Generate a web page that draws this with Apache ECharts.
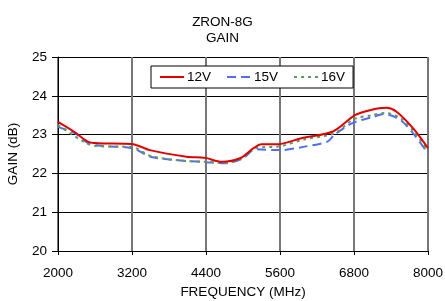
<!DOCTYPE html>
<html><head><meta charset="utf-8">
<script src="https://cdn.jsdelivr.net/npm/echarts@6/dist/echarts.min.js"></script>
<style>html,body{margin:0;padding:0;background:#fff}#c{width:445px;height:301px}</style>
</head><body><div id="c"></div>
<script>
const freq12 = [2000,2275,2480,2640,3195,3490,4085,4385,4655,4950,5170,5300,5545,5975,6460,6815,7060,7325,7490,7760,8000];
const v12 =    [23.33,23.06,22.82,22.78,22.76,22.60,22.43,22.40,22.30,22.39,22.65,22.75,22.75,22.92,23.08,23.50,23.63,23.69,23.59,23.16,22.65];
const freq15 = [2000,2280,2480,2700,3200,3500,3800,4100,4400,4700,5000,5200,5600,6000,6370,6480,6765,7120,7280,7550,7760,8000];
const v15 =    [23.20,23.03,22.79,22.71,22.65,22.43,22.36,22.32,22.29,22.26,22.39,22.62,22.60,22.69,22.82,22.99,23.29,23.46,23.53,23.38,23.03,22.52];
const freq16 = [2000,2480,2700,3200,3500,4000,4400,4700,5000,5200,5600,6000,6480,6800,7100,7300,7550,7760,8000];
const v16 =    [23.25,22.76,22.70,22.68,22.45,22.33,22.30,22.27,22.40,22.65,22.70,22.88,23.03,23.40,23.50,23.56,23.43,23.10,22.58];
const xTicks = [2000,3200,4400,5600,6800,8000];
const yTicks = [20,21,22,23,24,25];
const seriesNames = ['12V','15V','16V'];

const pair = (xs, ys) => xs.map((x,i)=>[x, ys[i]]);
const font = 'Liberation Sans, Arial, sans-serif';
const chart = echarts.init(document.getElementById('c'));
chart.setOption({
  animation:false,
  title:{text:'ZRON-8G\nGAIN', left:'center', top:9, textStyle:{fontFamily:font,fontSize:13.5,fontWeight:'normal',color:'#000',lineHeight:16}},
  grid:{left:58,right:17,top:57,bottom:50,containLabel:false,outerBoundsMode:'none'},
  legend:{
    data:seriesNames, left:151, top:66, padding:[4,8,4,8], orient:'horizontal',
    borderColor:'#000', borderWidth:1, backgroundColor:'#fff', borderRadius:0,
    itemWidth:24, itemHeight:10, itemGap:15,
    itemStyle:{opacity:0},
    textStyle:{fontFamily:font,fontSize:13.5,color:'#000',padding:[0,0,0,-2]}
  },
  xAxis:{
    type:'value', min:xTicks[0], max:xTicks[xTicks.length-1], interval:1200,
    name:'FREQUENCY (MHz)', nameLocation:'middle', nameGap:34,
    nameTextStyle:{fontFamily:font,fontSize:13.5,color:'#000'},
    axisLine:{lineStyle:{color:'#000',width:1}},
    axisTick:{show:true,length:4,lineStyle:{color:'#000'}},
    axisLabel:{fontFamily:font,fontSize:13.5,color:'#000',margin:15,formatter:v=>String(v)},
    splitLine:{show:true,lineStyle:{color:'#777',width:2}}
  },
  yAxis:{
    type:'value', min:yTicks[0], max:yTicks[yTicks.length-1], interval:1,
    name:'GAIN (dB)', nameLocation:'middle', nameGap:38,
    nameTextStyle:{fontFamily:font,fontSize:13.5,color:'#000'},
    axisLine:{show:true,lineStyle:{color:'#000',width:1}},
    axisTick:{show:true,length:6,lineStyle:{color:'#000'}},
    axisLabel:{fontFamily:font,fontSize:13.5,color:'#000',margin:11},
    splitLine:{show:true,lineStyle:{color:'#000',width:1}}
  },
  series:[
    {name:seriesNames[0],type:'line',smooth:0.3,symbol:'none',data:pair(freq12,v12),lineStyle:{color:'#e00000',width:2},itemStyle:{color:'#e00000'},z:5},
    {name:seriesNames[1],type:'line',smooth:0.3,symbol:'none',data:pair(freq15,v15),lineStyle:{color:'#4f6ff0',width:2,type:[9,5]},itemStyle:{color:'#4f6ff0'},z:3},
    {name:seriesNames[2],type:'line',smooth:0.3,symbol:'none',data:pair(freq16,v16),lineStyle:{color:'#5f9a5f',width:2,type:[3,4]},itemStyle:{color:'#5f9a5f'},z:4}
  ]
});
</script></body></html>
